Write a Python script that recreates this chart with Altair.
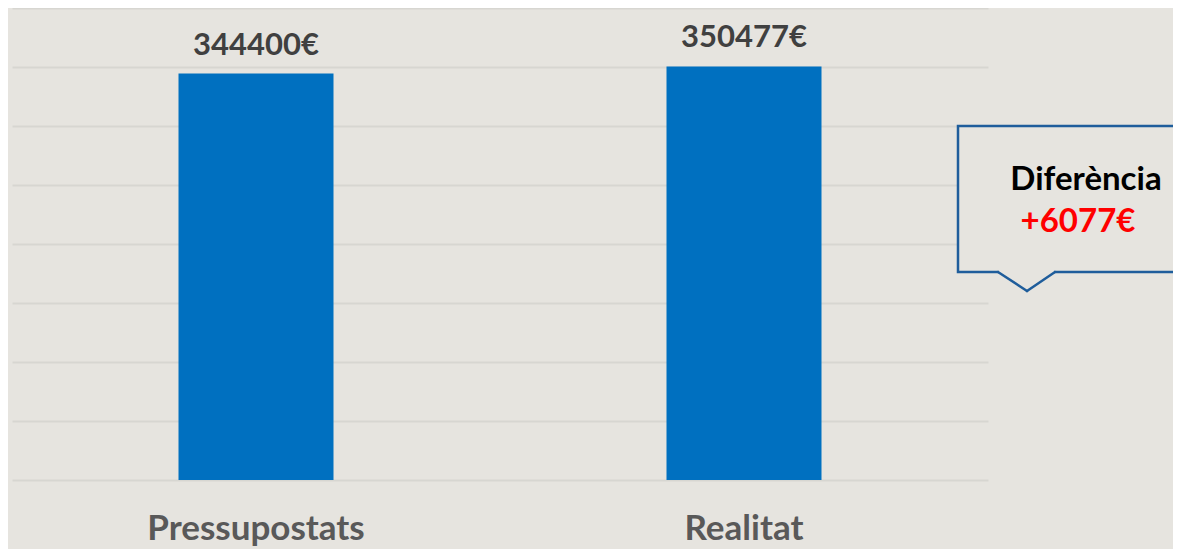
import altair as alt
import pandas as pd

categories = ["Pressupostats", "Realitat"]
values = [344400, 350477]
labels = ["344400€", "350477€"]
diff_title = "Diferència"
diff_value = "+6077€"
grid_values = [0, 50000, 100000, 150000, 200000, 250000, 300000, 350000, 400000]

df = pd.DataFrame({"cat": categories, "val": values, "lab": labels})

BG = "#e6e4df"
FONT = "Lato"

x = alt.X("cat:N", sort=categories, title=None,
          scale=alt.Scale(paddingInner=0, paddingOuter=0),
          axis=alt.Axis(labelAngle=0, labelFontSize=35, labelFontWeight="bold",
                        labelColor="#595959", labelFont=FONT, ticks=False, labelLimit=0,
                        domain=False, labelPadding=31, grid=False))
y = alt.Y("val:Q", title=None, scale=alt.Scale(domain=[0, 400000], nice=False),
          axis=alt.Axis(values=grid_values, labels=False, ticks=False, domain=False,
                        grid=True, gridColor="#d7d6d1", gridWidth=2))

bars = alt.Chart(df).mark_bar(size=155, color="#0070c0").encode(x=x, y=y)
vals = alt.Chart(df).mark_text(baseline="bottom", dy=-12, fontSize=31,
                               fontWeight="bold", color="#404040", font=FONT).encode(
    x=x, y=y, text="lab:N")

one = alt.Data(values=[{}])
box = alt.Chart(one).mark_rect(fill=BG, stroke="#1f5d9b", strokeWidth=2.5).encode(
    x=alt.value(946), x2=alt.value(1200), y=alt.value(118), y2=alt.value(264))
gap = alt.Chart(one).mark_rule(color=BG, strokeWidth=4).encode(
    x=alt.value(987), x2=alt.value(1042), y=alt.value(264), y2=alt.value(264))
ptr1 = alt.Chart(one).mark_rule(color="#1f5d9b", strokeWidth=2.5, strokeCap="round").encode(
    x=alt.value(986), x2=alt.value(1015), y=alt.value(264), y2=alt.value(283))
ptr2 = alt.Chart(one).mark_rule(color="#1f5d9b", strokeWidth=2.5, strokeCap="round").encode(
    x=alt.value(1015), x2=alt.value(1043), y=alt.value(283), y2=alt.value(264))
t1 = alt.Chart(one).mark_text(fontSize=33, fontWeight="bold", color="#000000", font=FONT,
                              baseline="middle", align="center").encode(
    x=alt.value(1074), y=alt.value(172), text=alt.value(diff_title))
t2 = alt.Chart(one).mark_text(fontSize=33, fontWeight="bold", color="#ff0000", font=FONT,
                              baseline="middle", align="center").encode(
    x=alt.value(1066), y=alt.value(214), text=alt.value(diff_value))

chart = alt.layer(bars, vals, box, gap, ptr1, ptr2, t1, t2).properties(
    width=976, height=472,
    autosize=alt.AutoSizeParams(type="none"),
    padding={"left": 4, "top": 0, "right": 185, "bottom": 69},
    background=BG,
).configure_view(stroke=None)

chart.save("out.html", embed_options={"renderer": "svg", "actions": False})
